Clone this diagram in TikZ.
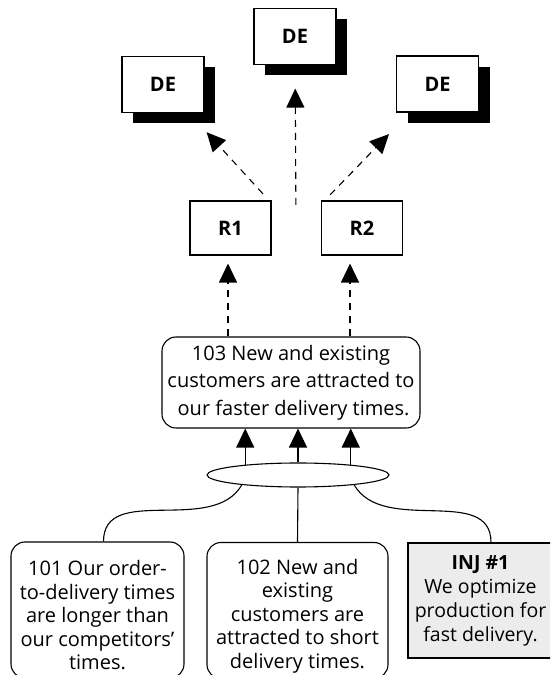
\documentclass[tikz,border=0pt]{standalone}
\usepackage{fontspec}
\setmainfont{Open Sans}
\usepackage{tikz}
\usetikzlibrary{arrows.meta, calc, positioning, shadows, shapes.geometric}

\tikzset{
    debox/.style={draw, line width=1.1pt, fill=white, minimum width=82pt, minimum height=56pt,
        font=\fontsize{20}{24}\selectfont\bfseries,
        drop shadow={shadow xshift=11pt, shadow yshift=-11pt, fill=black, opacity=1}},
    rbox/.style={draw, line width=1.1pt, fill=white, minimum width=81pt, minimum height=54pt,
        font=\fontsize{20}{24}\selectfont\bfseries},
    entity/.style={draw, line width=1.1pt, rounded corners=14pt, align=center, inner sep=2pt,
        font=\fontsize{20}{23.5}\selectfont},
    dasharrow/.style={line width=1.1pt, dash pattern=on 7pt off 6pt, -{Triangle[length=19pt, width=18pt]}},
    solidarrow/.style={line width=1.1pt, -{Triangle[length=19pt, width=18pt]}},
    link/.style={line width=1.1pt}
}

\begin{document}
\begin{tikzpicture}[x=1pt, y=1pt]
    \useasboundingbox (0,0) rectangle (550,675);
    \clip (0,0) rectangle (550,675);

    % desirable effects
    \node[debox] (deM) at (295,638.5) {DE};
    \node[debox] (deL) at (163,590.5) {DE};
    \node[debox] (deR) at (437.5,591) {DE};

    % R1 / R2
    \node[rbox] (r1) at (230.5,447) {R1};
    \node[rbox] (r2) at (362,447) {R2};
    \coordinate (fan) at (296,445);

    % 103
    \node[entity, minimum width=258pt, minimum height=91pt, font=\fontsize{20}{27.5}\selectfont] (n103) at (291,292.5)
        {103 New and existing\\customers are attracted to\\\ our faster delivery times.};

    % and-ellipse
    \node[draw, link, ellipse, minimum width=182pt, minimum height=24pt, inner sep=0pt] (ell) at (298,200) {};

    % bottom entities
    \node[entity, minimum width=173pt, minimum height=136pt] (n101) at (97.5,65)
        {\rule{0pt}{26pt}101 Our order-\\to-delivery times\\are longer than\\our competitors'\\times.};
    \node[entity, minimum width=181pt, minimum height=136pt] (n102) at (297.5,64.5)
        {\rule{0pt}{26pt}102 New and\\existing\\customers are\\attracted to short\\delivery times.};
    \node[draw, line width=1.1pt, fill=gray!15, align=center, minimum width=145pt, minimum height=115pt,
        font=\fontsize{19.5}{24}\selectfont] (inj) at (480.5,74.5)
        {\textbf{INJ \#1}\\We optimize\\production for\\fast delivery.};

    % R -> DE
    \draw[dasharrow, shorten <=49pt, shorten >=26pt] (fan) -- (deL);
    \draw[dasharrow, shorten <=25pt, shorten >=23.5pt] (fan) -- (deM);
    \draw[dasharrow, shorten <=49pt, shorten >=30pt] (fan) -- (deR);

    % 103 -> R
    \draw[dasharrow, shorten >=8pt] ([xshift=-2.5pt]r1.south |- n103.north) -- ([xshift=-2.5pt]r1.south);
    \draw[dasharrow, shorten >=8pt] ([xshift=-12pt]r2.south |- n103.north) -- ([xshift=-12pt]r2.south);

    % ellipse -> 103
    \draw[solidarrow] (ell.169) -- (ell.169 |- n103.south);
    \draw[solidarrow] (ell.north) -- (ell.north |- n103.south);
    \draw[solidarrow] (ell.11) -- (ell.11 |- n103.south);

    % entities -> ellipse
    \draw[link] ([xshift=6pt]n101.north) to[out=90, in=240] (ell.190);
    \draw[link] (n102.north) -- (ell.south);
    \draw[link] ([xshift=10.5pt]inj.north) to[out=90, in=-60] (ell.-10);
\end{tikzpicture}
\end{document}
